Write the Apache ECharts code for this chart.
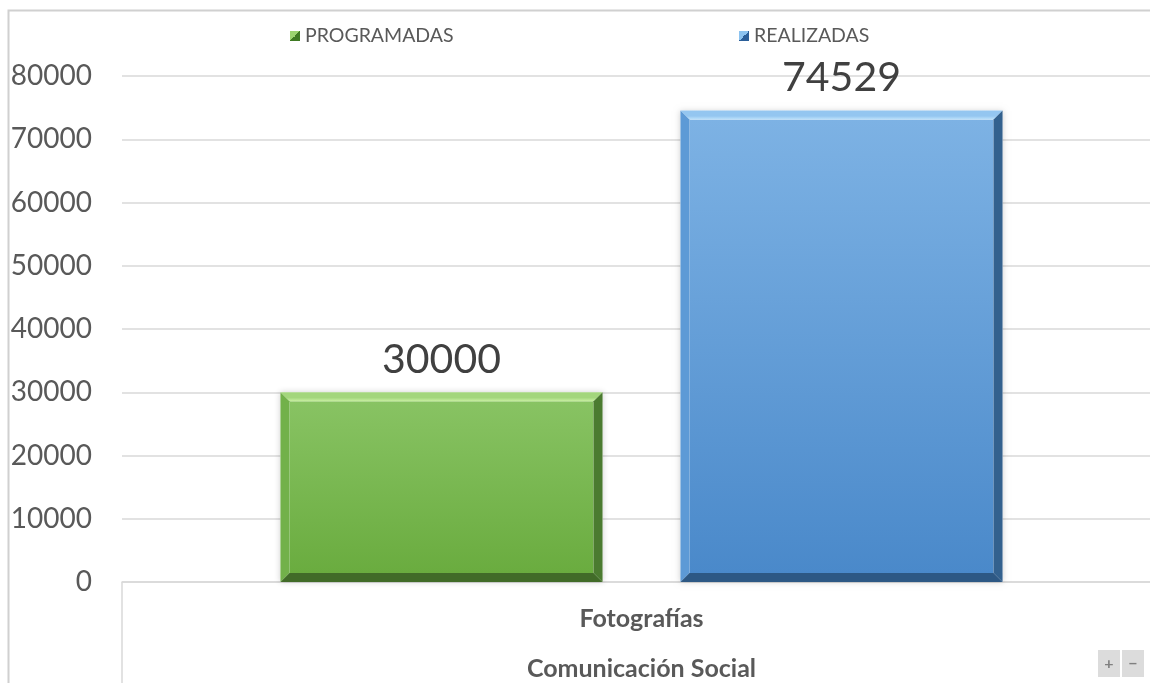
<!DOCTYPE html>
<html>
<head>
<meta charset="utf-8">
<title>Comunicación Social</title>
<script src="https://cdn.jsdelivr.net/npm/echarts@6/dist/echarts.min.js"></script>
<style>
  html, body { margin: 0; padding: 0; background: #fff; }
  #chart { width: 1150px; height: 683px; }
</style>
</head>
<body>
<div id="chart"></div>
<script>
// datos
const categories = ["Fotografías"];
const groupLabel = "Comunicación Social";
const programadas = [30000];
const realizadas = [74529];
const seriesNames = ["PROGRAMADAS", "REALIZADAS"];

const FONT = "Lato";
const G = echarts.graphic;

// colores del bisel (verde / azul)
const palettes = [
  {
    faceTop: "#88c363", faceBottom: "#6aac3f",
    top: "#a3d67c", topLine: "#c9f0a2",
    right: "#4b7b30", bottom: "#416b28", left: "#72b14a"
  },
  {
    faceTop: "#7db2e4", faceBottom: "#4a89ca",
    top: "#94c6f0", topLine: "#bfe3fb",
    right: "#33618e", bottom: "#2d5884", left: "#5d9ad6"
  }
];

function bevelBar(sIdx) {
  return function (params, api) {
    const pal = palettes[sIdx];
    const cat = api.value(0);
    const val = api.value(1);
    const topPt = api.coord([cat, val]);
    const basePt = api.coord([cat, 0]);
    const band = api.size([1, 0])[0];
    const bw = band * 0.31;
    const off = (sIdx === 0 ? -1 : 1) * band * 0.1925;
    const x0 = topPt[0] + off - bw / 2, x1 = x0 + bw;
    const y0 = topPt[1], y1 = basePt[1];
    const d = 9;
    return {
      type: "group",
      children: [
        { type: "rect", shape: { x: x0, y: y0, width: bw, height: y1 - y0 },
          style: { fill: "#fff", shadowBlur: 6, shadowColor: "rgba(0,0,0,0.18)" } },
        { type: "rect", shape: { x: x0 + d, y: y0 + d, width: bw - 2 * d, height: y1 - y0 - 2 * d },
          style: { fill: new G.LinearGradient(0, 0, 0, 1, [
            { offset: 0, color: pal.faceTop }, { offset: 1, color: pal.faceBottom }]) } },
        { type: "polygon", shape: { points: [[x0, y0], [x1, y0], [x1 - d, y0 + d], [x0 + d, y0 + d]] },
          style: { fill: new G.LinearGradient(0, 0, 0, 1, [
            { offset: 0, color: pal.top }, { offset: 0.6, color: pal.top }, { offset: 1, color: pal.topLine }]) } },
        { type: "polygon", shape: { points: [[x0, y0], [x0 + d, y0 + d], [x0 + d, y1 - d], [x0, y1]] },
          style: { fill: pal.left } },
        { type: "polygon", shape: { points: [[x1, y0], [x1, y1], [x1 - d, y1 - d], [x1 - d, y0 + d]] },
          style: { fill: pal.right } },
        { type: "polygon", shape: { points: [[x0, y1], [x1, y1], [x1 - d, y1 - d], [x0 + d, y1 - d]] },
          style: { fill: pal.bottom } },
        { type: "text", style: {
            text: String(val), x: (x0 + x1) / 2, y: y0 - 12,
            align: "center", verticalAlign: "bottom",
            font: "41px " + FONT, fill: "#404040" } }
      ]
    };
  };
}

const chart = echarts.init(document.getElementById("chart"));

chart.setOption({
  backgroundColor: "#ffffff",
  animation: false,
  textStyle: { fontFamily: FONT },
  grid: { left: 122, top: 76, right: -11, bottom: 101, outerBoundsMode: "none" },
  legend: [
    { data: [seriesNames[0]], left: 285, top: 21, itemWidth: 10, itemHeight: 10,
      icon: "rect", textStyle: { fontSize: 19.5, color: "#595959", fontFamily: FONT } },
    { data: [seriesNames[1]], left: 734, top: 21, itemWidth: 10, itemHeight: 10,
      icon: "rect", textStyle: { fontSize: 19.5, color: "#595959", fontFamily: FONT } }
  ],
  xAxis: {
    type: "category",
    data: categories,
    boundaryGap: true,
    name: groupLabel,
    nameLocation: "middle",
    nameGap: 74,
    nameTextStyle: { fontSize: 25, fontWeight: "bold", color: "#595959", fontFamily: FONT },
    axisLine: { show: true, lineStyle: { color: "#d9d9d9", width: 1.5 } },
    axisTick: { show: true, length: 101, lineStyle: { color: "#d9d9d9", width: 1.5 } },
    axisLabel: { margin: 24, fontSize: 25, fontWeight: "bold", color: "#595959", fontFamily: FONT }
  },
  yAxis: {
    type: "value",
    min: 0,
    max: 80000,
    interval: 10000,
    axisLine: { show: false },
    axisTick: { show: false },
    axisLabel: { margin: 30, fontSize: 28, color: "#595959", fontFamily: FONT,
      formatter: (v) => String(v) },
    splitLine: { lineStyle: { color: "#d9d9d9", width: 1.5 } }
  },
  series: [
    {
      name: seriesNames[0],
      type: "custom",
      renderItem: bevelBar(0),
      encode: { x: 0, y: 1 },
      itemStyle: { color: new G.LinearGradient(0, 0, 1, 1, [
        { offset: 0, color: "#9bd36f" }, { offset: 0.5, color: "#9bd36f" },
        { offset: 0.5, color: "#3f7a23" }, { offset: 1, color: "#3f7a23" }]) },
      data: categories.map((c, i) => [i, programadas[i]])
    },
    {
      name: seriesNames[1],
      type: "custom",
      renderItem: bevelBar(1),
      encode: { x: 0, y: 1 },
      itemStyle: { color: new G.LinearGradient(0, 0, 1, 1, [
        { offset: 0, color: "#8cc3f0" }, { offset: 0.5, color: "#8cc3f0" },
        { offset: 0.5, color: "#2b5f99" }, { offset: 1, color: "#2b5f99" }]) },
      data: categories.map((c, i) => [i, realizadas[i]])
    }
  ],
  graphic: [
    { type: "rect", silent: true, shape: { x: 8.5, y: 10.5, width: 1200, height: 700 },
      style: { fill: "none", stroke: "#d0d0d0", lineWidth: 2 } },
    { type: "group", left: 1098, top: 650, children: [
      { type: "rect", shape: { x: 0, y: 0, width: 22, height: 27 }, style: { fill: "#dcdcdc" } },
      { type: "rect", shape: { x: 24, y: 0, width: 22, height: 27 }, style: { fill: "#dcdcdc" } },
      { type: "text", style: { text: "+", x: 11, y: 13.5, align: "center", verticalAlign: "middle",
        font: "bold 16px " + FONT, fill: "#808080" } },
      { type: "text", style: { text: "−", x: 35, y: 13.5, align: "center", verticalAlign: "middle",
        font: "bold 16px " + FONT, fill: "#808080" } }
    ] }
  ]
});
</script>
</body>
</html>
